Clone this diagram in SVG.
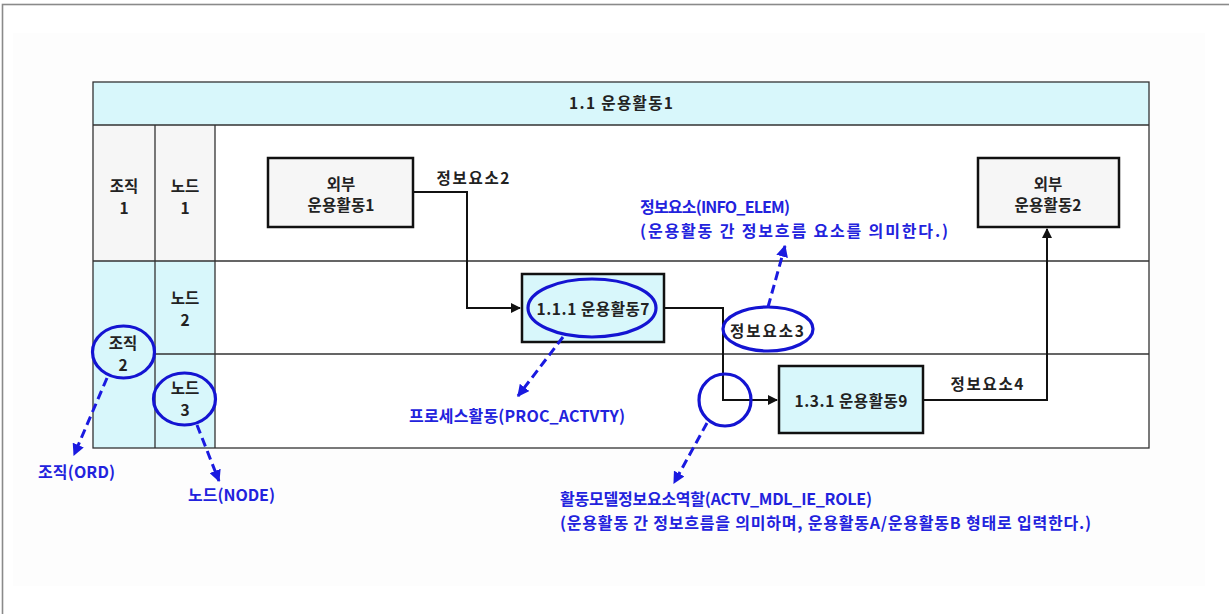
<svg xmlns="http://www.w3.org/2000/svg" width="1229" height="614" viewBox="0 0 1229 614">
<style>
.t{font-family:"Noto Sans CJK KR","Noto Sans",sans-serif;font-size:15.5px;font-weight:bold;fill:#222;text-anchor:middle;dominant-baseline:central}
.b{font-family:"Noto Sans CJK KR","Noto Sans",sans-serif;font-size:16px;font-weight:bold;fill:#2222dd;dominant-baseline:central}
.grid{stroke:#333;stroke-width:1.3;fill:none}
.box{stroke:#111;stroke-width:2.5}
.conn{stroke:#111;stroke-width:2;fill:none}
.hl{stroke:#1414d2;stroke-width:3.2;fill:none}
.dash{stroke:#1a1ae0;stroke-width:3;fill:none;stroke-dasharray:9 5}
</style>
<defs>
<marker id="ah" viewBox="0 0 10 10" refX="9" refY="5" markerWidth="10" markerHeight="10" markerUnits="userSpaceOnUse" orient="auto"><path d="M0,0 L10,5 L0,10 z" fill="#111"/></marker>
<marker id="bh" viewBox="0 0 10 10" refX="9" refY="5" markerWidth="12" markerHeight="12" markerUnits="userSpaceOnUse" orient="auto"><path d="M0,0 L10,5 L0,10 z" fill="#1a1ae0"/></marker>
</defs>
<rect x="0" y="0" width="1229" height="614" fill="#fff"/>
<rect x="2.5" y="4.5" width="1300" height="700" fill="#fff" stroke="#8a8a8a" stroke-width="1.6"/>
<rect x="13" y="33" width="1192" height="553" fill="#fdfdfd"/>

<g id="table">
<rect x="93" y="82" width="1056" height="43" fill="#d8f7fb"/>
<rect x="93" y="125" width="122" height="136" fill="#f6f6f6"/>
<rect x="93" y="261" width="122" height="187" fill="#d8f7fb"/>
<rect x="215" y="125" width="934" height="323" fill="#fff"/>
<rect x="93" y="82" width="1056" height="366" class="grid"/>
<path class="grid" d="M93,125 H1149 M93,261 H1149 M155,354 H1149 M155,125 V448 M215,125 V448"/>
<text class="t" x="621" y="102" textLength="104" lengthAdjust="spacing">1.1 운용활동1</text>
</g>

<g id="org1"><text class="t" x="124" y="185">조직</text><text class="t" x="124" y="207">1</text></g>
<g id="node1"><text class="t" x="185" y="185">노드</text><text class="t" x="185" y="207">1</text></g>
<g id="node2"><text class="t" x="185" y="297">노드</text><text class="t" x="185" y="319">2</text></g>
<g id="org2"><text class="t" x="123" y="342">조직</text><text class="t" x="123" y="364">2</text><ellipse class="hl" cx="123.5" cy="352" rx="31" ry="26"/></g>
<g id="node3"><text class="t" x="185" y="387">노드</text><text class="t" x="185" y="409">3</text><ellipse class="hl" cx="184.5" cy="399" rx="31" ry="26"/></g>

<g id="ext1"><rect class="box" x="268" y="158" width="145" height="69" fill="#f6f6f6"/><text class="t" x="341" y="183">외부</text><text class="t" x="341" y="204" textLength="67" lengthAdjust="spacing">운용활동1</text></g>
<g id="ext2"><rect class="box" x="978" y="158" width="141" height="69" fill="#f6f6f6"/><text class="t" x="1048" y="183">외부</text><text class="t" x="1048" y="204" textLength="67" lengthAdjust="spacing">운용활동2</text></g>
<g id="act7"><rect class="box" x="522" y="274" width="142" height="68" fill="#d8f7fb"/><text class="t" x="593" y="308" textLength="113" lengthAdjust="spacing">1.1.1 운용활동7</text><ellipse class="hl" cx="592" cy="308" rx="64" ry="29"/></g>
<g id="act9"><rect class="box" x="779" y="366" width="144" height="67" fill="#d8f7fb"/><text class="t" x="851" y="400" textLength="113" lengthAdjust="spacing">1.3.1 운용활동9</text></g>

<g id="connectors">
<path class="conn" d="M413,192 H467 V308 H520" marker-end="url(#ah)"/>
<path class="conn" d="M664,308 H723 V400 H777" marker-end="url(#ah)"/>
<path class="conn" d="M923,400 H1047 V229" marker-end="url(#ah)"/>
<text class="t" x="473" y="177" textLength="73" lengthAdjust="spacing">정보요소2</text>
<text class="t" x="767" y="330" textLength="74" lengthAdjust="spacing">정보요소3</text>
<ellipse class="hl" cx="768" cy="329" rx="45" ry="22"/>
<text class="t" x="987" y="383" textLength="73" lengthAdjust="spacing">정보요소4</text>
<circle class="hl" cx="725" cy="400" r="26"/>
</g>

<g id="annotations">
<path class="dash" d="M107,378 L74,455" marker-end="url(#bh)"/>
<path class="dash" d="M197,425 L219,481" marker-end="url(#bh)"/>
<path class="dash" d="M563,337 L518,396" marker-end="url(#bh)"/>
<path class="dash" d="M768,307 L785,246" marker-end="url(#bh)"/>
<path class="dash" d="M707,423 L674,483" marker-end="url(#bh)"/>
<text class="b" x="38" y="471" textLength="77" lengthAdjust="spacing">조직(ORD)</text>
<text class="b" x="188" y="494" textLength="87" lengthAdjust="spacing">노드(NODE)</text>
<text class="b" x="409" y="415" textLength="216" lengthAdjust="spacing">프로세스활동(PROC_ACTVTY)</text>
<text class="b" x="640" y="206" textLength="150" lengthAdjust="spacing">정보요소(INFO_ELEM)</text>
<text class="b" x="640" y="230" textLength="308" lengthAdjust="spacing">(운용활동 간 정보흐름 요소를 의미한다.)</text>
<text class="b" x="560" y="498" textLength="312" lengthAdjust="spacing">활동모델정보요소역할(ACTV_MDL_IE_ROLE)</text>
<text class="b" x="560" y="522" textLength="531" lengthAdjust="spacing">(운용활동 간 정보흐름을 의미하며, 운용활동A/운용활동B 형태로 입력한다.)</text>
</g>
</svg>
